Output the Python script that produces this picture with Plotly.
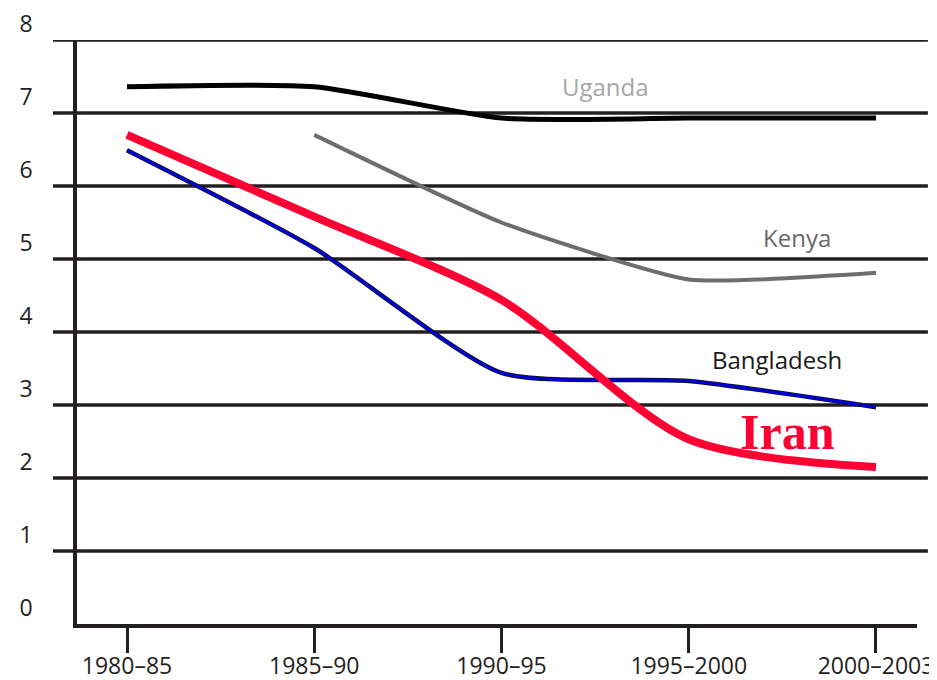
import plotly.graph_objects as go

PERIODS = ["1980–85", "1985–90", "1990–95", "1995–2000", "2000–2003"]
Y_TICKS = [0, 1, 2, 3, 4, 5, 6, 7, 8]

UGANDA = [7.36, 7.36, 6.93, 6.93, 6.93]
KENYA = [None, 6.70, 5.50, 4.72, 4.81]
BANGLADESH = [6.49, 5.15, 3.44, 3.33, 2.97]
IRAN = [6.70, 5.58, 4.44, 2.53, 2.15]

INK = "#231f20"
FONT = "Open Sans, sans-serif"

fig = go.Figure()

fig.add_trace(go.Scatter(x=PERIODS, y=UGANDA, mode="lines", name="Uganda",
                         line=dict(color="#000000", width=5, shape="spline", smoothing=0.6)))
fig.add_trace(go.Scatter(x=PERIODS, y=KENYA, mode="lines", name="Kenya",
                         line=dict(color="#6d6d6d", width=4, shape="spline", smoothing=0.5)))
fig.add_trace(go.Scatter(x=PERIODS, y=BANGLADESH, mode="lines", name="Bangladesh shadow",
                         line=dict(color="#111111", width=4.5, shape="spline", smoothing=0.6)))
fig.add_trace(go.Scatter(x=PERIODS, y=BANGLADESH, mode="lines", name="Bangladesh",
                         line=dict(color="#0000dd", width=2.8, shape="spline", smoothing=0.6)))
fig.add_trace(go.Scatter(x=PERIODS, y=IRAN, mode="lines", name="Iran",
                         line=dict(color="#ff0033", width=8, shape="spline", smoothing=0.8)))

# horizontal rules run a little past the axis on both sides
for v in Y_TICKS[1:]:
    fig.add_shape(type="line", xref="paper", yref="y", x0=-0.0286, x1=1.013, y0=v, y1=v,
                  line=dict(color=INK, width=3.5), layer="below")

labels = [
    ("Uganda", 2.553, 7.36, "#a6a6a6", 24, FONT),
    ("Kenya", 3.578, 5.30, "#6a6a6a", 24, FONT),
    ("Bangladesh", 3.471, 3.62, "#1a1a1a", 24, FONT),
]
for text, x, y, color, size, family in labels:
    fig.add_annotation(x=x, y=y, text=text, showarrow=False,
                       font=dict(color=color, size=size, family=family))
fig.add_annotation(x=3.525, y=2.63, text="<b>Iran</b>", showarrow=False,
                   font=dict(color="#ff0033", size=50, family="Liberation Serif, serif"))

# the page body adds an 8px offset, so the figure is trimmed by that much
fig.update_layout(
    width=929, height=672,
    margin=dict(l=69, r=20, t=32, b=56),
    paper_bgcolor="white", plot_bgcolor="white",
    showlegend=False,
    font=dict(family=FONT, color=INK, size=23),
    xaxis=dict(
        type="category", range=[-0.267, 4.219], automargin=False,
        showgrid=False, zeroline=False,
        showline=True, linecolor=INK, linewidth=3.5,
        ticks="outside", ticklen=25, tickwidth=3, tickcolor=INK,
        ticklabelstandoff=-6,
        tickfont=dict(size=23, color=INK),
    ),
    yaxis=dict(
        range=[0, 8], tickvals=Y_TICKS, automargin=False,
        showgrid=False, zeroline=False,
        showline=True, linecolor=INK, linewidth=3.5,
        ticks="", ticklabelstandoff=36, ticklabelshift=-16,
        ticklabeloverflow="allow",
        tickfont=dict(size=23, color=INK),
    ),
)

fig.write_html("out.html")
